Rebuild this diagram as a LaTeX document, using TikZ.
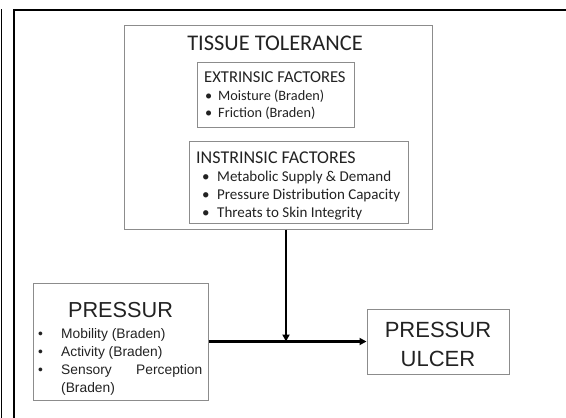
\documentclass[tikz,border=0pt]{standalone}
\usepackage{fontspec}
\setmainfont{Carlito}
\newfontfamily\arialf{Liberation Sans}
\usetikzlibrary{arrows.meta}
\definecolor{boxgray}{HTML}{8C8C8C}
\definecolor{txt}{HTML}{222222}
\tikzset{
  box/.style={draw=boxgray, line width=1pt, inner sep=0pt, fill=none},
  lbl/.style={inner sep=0pt, anchor=base west, text=txt},
  ctr/.style={inner sep=0pt, anchor=base, text=txt},
  frame/.style={draw=black, line width=2pt},
  arr/.style={draw=black, line width=2.6pt, -{Triangle[length=7pt,width=7pt]}},
  pitem/.style={lbl, font=\arialf\fontsize{13.8}{16}\selectfont}
}
\begin{document}
\begin{tikzpicture}[x=1pt,y=-1pt]
\useasboundingbox (0,0) rectangle (566,418);
% outer frame
\coordinate (f1) at (13.5,418);
\coordinate (f2) at (13.5,9.5);
\coordinate (f3) at (566,9.5);
\draw[frame] (f1) -- (f2) -- (f3);
\coordinate (g1) at (1.5,9);
\coordinate (g2) at (1.5,418);
\draw[draw=black, line width=1.5pt] (g1) -- (g2);
% boxes
\node[box, minimum width=308pt, minimum height=204pt] (tt) at (278,127) {};
\node[box, minimum width=157pt, minimum height=65pt] (ext) at (275.5,94.5) {};
\node[box, minimum width=219pt, minimum height=82pt] (int) at (298.5,182.5) {};
\node[box, minimum width=175pt, minimum height=117pt] (pres) at (120.5,341.5) {};
\node[box, minimum width=142pt, minimum height=65pt] (ulc) at (438,341.5) {};
% tissue tolerance texts
\node[ctr, font=\fontsize{22.4}{26}\selectfont] (ttt) at (275,50) {TISSUE TOLERANCE};
\node[lbl, font=\fontsize{16.6}{20}\selectfont] (extt) at (204,82.5) {EXTRINSIC FACTORES};
\node[lbl, font=\fontsize{14.3}{17}\selectfont] (eb1) at (205,100) {•};
\node[lbl, font=\fontsize{14.3}{17}\selectfont] (ex1) at (218,100) {Moisture (Braden)};
\node[lbl, font=\fontsize{14.3}{17}\selectfont] (eb2) at (205,117.5) {•};
\node[lbl, font=\fontsize{14.3}{17}\selectfont] (ex2) at (218,117.5) {Friction (Braden)};
\node[lbl, font=\fontsize{18}{21}\selectfont] (intt) at (196,163) {INSTRINSIC FACTORES};
\node[lbl, font=\fontsize{15}{18}\selectfont] (ib1) at (202,181.5) {•};
\node[lbl, font=\fontsize{15}{18}\selectfont] (in1) at (217,181.5) {Metabolic Supply \& Demand};
\node[lbl, font=\fontsize{15}{18}\selectfont] (ib2) at (202,199.5) {•};
\node[lbl, font=\fontsize{15}{18}\selectfont] (in2) at (217,199.5) {Pressure Distribution Capacity};
\node[lbl, font=\fontsize{15}{18}\selectfont] (ib3) at (202,217.5) {•};
\node[lbl, font=\fontsize{15}{18}\selectfont] (in3) at (217,217.5) {Threats to Skin Integrity};
% pressur texts
\node[ctr, font=\arialf\fontsize{21.7}{25}\selectfont] (prt) at (120.5,317) {PRESSUR};
\node[pitem] (pb1) at (38,338) {•};
\node[pitem] (p1) at (61,338) {Mobility (Braden)};
\node[pitem] (pb2) at (38,356) {•};
\node[pitem] (p2) at (61,356) {Activity (Braden)};
\node[pitem] (pb3) at (38,374) {•};
\node[pitem] (p3) at (61,374) {\makebox[141pt][s]{Sensory\hfill Perception}};
\node[pitem] (p4) at (61,392) {(Braden)};
% ulcer texts
\node[ctr, font=\arialf\fontsize{22}{25}\selectfont] (u1) at (438,337) {PRESSUR};
\node[ctr, font=\arialf\fontsize{22}{25}\selectfont] (u2) at (438,366) {ULCER};
% connectors
\coordinate (j) at (286,341.5);
\draw[arr] (tt.south -| j) -- (j);
\draw[arr] (pres.east) -- (ulc.west);
\end{tikzpicture}
\end{document}
